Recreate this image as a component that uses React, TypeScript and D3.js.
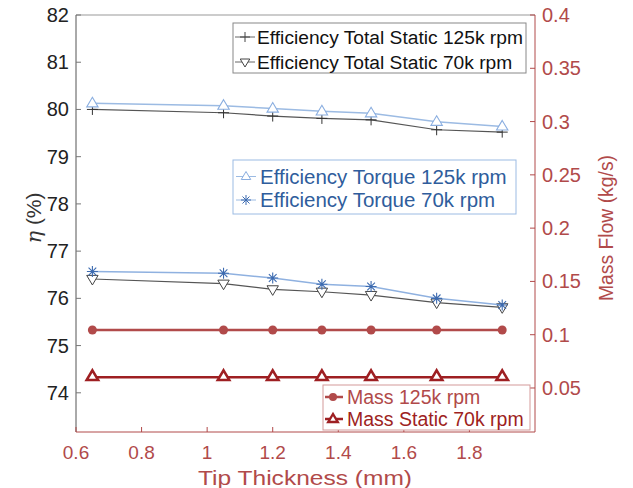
import { useEffect, useRef } from 'react';
import * as d3 from 'd3';

// tip thickness (mm)
const tipThickness = [0.65, 1.05, 1.2, 1.35, 1.5, 1.7, 1.9];

// efficiency (%) - left axis
const effTotalStatic125 = [80.0, 79.93, 79.86, 79.81, 79.78, 79.57, 79.52];
const effTotalStatic70 = [76.41, 76.31, 76.19, 76.14, 76.07, 75.91, 75.81];
const effTorque125 = [80.13, 80.08, 80.02, 79.96, 79.92, 79.74, 79.64];
const effTorque70 = [76.57, 76.53, 76.43, 76.3, 76.25, 76.0, 75.86];

// mass flow (kg/s) - right axis
const mass125 = [0.1044, 0.1044, 0.1044, 0.1044, 0.1044, 0.1044, 0.1044];
const massStatic70 = [0.06, 0.06, 0.06, 0.06, 0.06, 0.06, 0.06];

const xTicks = [0.6, 0.8, 1, 1.2, 1.4, 1.6, 1.8];
const leftTicks = [74, 75, 76, 77, 78, 79, 80, 81, 82];
const rightTicks = [0.05, 0.1, 0.15, 0.2, 0.25, 0.3, 0.35, 0.4];

const RED = '#b14a4a';
const DARK_RED = '#9e1f22';
const BLUE_TXT = '#2f5d9c';
const FONT = '"Liberation Sans", Arial, sans-serif';

const App = () => {
  const svgRef = useRef<SVGSVGElement>(null);

  useEffect(() => {
    const svg = d3.select(svgRef.current);
    svg.selectAll('*').remove();

    const left = 76, right = 535, top = 15, bottom = 432;
    const x = d3.scaleLinear().domain([0.6, 2.0]).range([left, right]);
    const yL = d3.scaleLinear().domain([73.17, 82]).range([bottom, top]);
    const yR = d3.scaleLinear().domain([0.0087, 0.4]).range([bottom, top]);

    // frame
    svg.append('line').attr('x1', left).attr('x2', right).attr('y1', top).attr('y2', top)
      .attr('stroke', '#999').attr('stroke-width', 1);
    svg.append('line').attr('x1', left).attr('x2', left).attr('y1', top).attr('y2', bottom)
      .attr('stroke', '#555').attr('stroke-width', 1);
    svg.append('line').attr('x1', right).attr('x2', right).attr('y1', top).attr('y2', bottom)
      .attr('stroke', RED).attr('stroke-width', 1);
    svg.append('line').attr('x1', left).attr('x2', right).attr('y1', bottom).attr('y2', bottom)
      .attr('stroke', RED).attr('stroke-width', 1);

    // left ticks
    leftTicks.forEach(t => {
      svg.append('line').attr('x1', left).attr('x2', left + 5).attr('y1', yL(t)).attr('y2', yL(t))
        .attr('stroke', '#777');
      svg.append('text').attr('x', left - 7).attr('y', yL(t)).attr('dy', '0.35em')
        .attr('text-anchor', 'end').style('font-family', FONT).style('font-size', '20px')
        .style('fill', '#222').text(t);
    });

    // right ticks
    rightTicks.forEach(t => {
      svg.append('line').attr('x1', right - 5).attr('x2', right).attr('y1', yR(t)).attr('y2', yR(t))
        .attr('stroke', RED);
      svg.append('text').attr('x', right + 7).attr('y', yR(t)).attr('dy', '0.35em')
        .attr('text-anchor', 'start').style('font-family', FONT).style('font-size', '20px')
        .style('fill', RED).text(t);
    });

    // x ticks
    xTicks.forEach(t => {
      svg.append('line').attr('x1', x(t)).attr('x2', x(t)).attr('y1', bottom).attr('y2', bottom - 5)
        .attr('stroke', RED);
      svg.append('text').attr('x', x(t)).attr('y', bottom + 27)
        .attr('text-anchor', 'middle').style('font-family', FONT).style('font-size', '19px')
        .style('fill', RED).text(t);
    });

    // axis titles
    svg.append('text').attr('x', 305).attr('y', 485).attr('text-anchor', 'middle')
      .style('font-family', FONT).style('font-size', '21px').style('fill', RED)
      .attr('textLength', 214).attr('lengthAdjust', 'spacingAndGlyphs')
      .text('Tip Thickness (mm)');

    const yLab = svg.append('text').attr('transform', 'translate(41,218) rotate(-90)')
      .attr('text-anchor', 'middle').style('font-size', '21px').style('fill', '#333');
    yLab.append('tspan').style('font-family', '"DejaVu Serif", serif').style('font-style', 'italic').text('η');
    yLab.append('tspan').style('font-family', FONT).text(' (%)');

    svg.append('text').attr('transform', 'translate(613,228) rotate(-90)')
      .attr('text-anchor', 'middle').style('font-family', FONT).style('font-size', '21px')
      .attr('textLength', 146).attr('lengthAdjust', 'spacingAndGlyphs')
      .style('fill', RED).text('Mass Flow (kg/s)');

    const pts = (vals: number[]) => tipThickness.map((t, i) => [t, vals[i]] as [number, number]);
    const lineL = d3.line<[number, number]>().x(d => x(d[0])).y(d => yL(d[1]));
    const lineR = d3.line<[number, number]>().x(d => x(d[0])).y(d => yR(d[1]));

    const triUp = (s: number) => `M0,${-s}L${s * 0.95},${s * 0.6}L${-s * 0.95},${s * 0.6}Z`;
    const triDown = (s: number) => `M0,${s}L${s * 0.95},${-s * 0.6}L${-s * 0.95},${-s * 0.6}Z`;
    const plus = (s: number) => `M${-s},0L${s},0M0,${-s}L0,${s}`;
    const star = (s: number) => {
      const d = s * 0.7;
      return `M${-s},0L${s},0M0,${-s}L0,${s}M${-d},${-d}L${d},${d}M${-d},${d}L${d},${-d}`;
    };

    const g = svg.append('g');

    // efficiency total static 125k (plus)
    g.append('path').attr('d', lineL(pts(effTotalStatic125))).attr('fill', 'none')
      .attr('stroke', '#555').attr('stroke-width', 1.2);
    pts(effTotalStatic125).forEach(d => g.append('path').attr('d', plus(5.5))
      .attr('transform', `translate(${x(d[0])},${yL(d[1])})`).attr('stroke', '#333').attr('stroke-width', 1));

    // efficiency torque 125k (triangle up)
    g.append('path').attr('d', lineL(pts(effTorque125))).attr('fill', 'none')
      .attr('stroke', '#9cbbe3').attr('stroke-width', 1.5);
    pts(effTorque125).forEach(d => g.append('path').attr('d', triUp(6))
      .attr('transform', `translate(${x(d[0])},${yL(d[1])})`)
      .attr('fill', 'white').attr('stroke', '#8aaee0').attr('stroke-width', 1.1));

    // efficiency total static 70k (triangle down)
    g.append('path').attr('d', lineL(pts(effTotalStatic70))).attr('fill', 'none')
      .attr('stroke', '#555').attr('stroke-width', 1.2);
    pts(effTotalStatic70).forEach(d => g.append('path').attr('d', triDown(6))
      .attr('transform', `translate(${x(d[0])},${yL(d[1])})`)
      .attr('fill', 'white').attr('stroke', '#444').attr('stroke-width', 1));

    // efficiency torque 70k (star)
    g.append('path').attr('d', lineL(pts(effTorque70))).attr('fill', 'none')
      .attr('stroke', '#8fb1e0').attr('stroke-width', 1.5);
    pts(effTorque70).forEach(d => g.append('path').attr('d', star(5.5))
      .attr('transform', `translate(${x(d[0])},${yL(d[1])})`)
      .attr('stroke', '#3d6bb0').attr('stroke-width', 1.1));

    // mass 125k (dots)
    g.append('path').attr('d', lineR(pts(mass125))).attr('fill', 'none')
      .attr('stroke', RED).attr('stroke-width', 2.5);
    pts(mass125).forEach(d => g.append('circle').attr('cx', x(d[0])).attr('cy', yR(d[1]))
      .attr('r', 4.5).attr('fill', RED));

    // mass static 70k (triangles)
    g.append('path').attr('d', lineR(pts(massStatic70))).attr('fill', 'none')
      .attr('stroke', DARK_RED).attr('stroke-width', 2.5);
    pts(massStatic70).forEach(d => g.append('path').attr('d', triUp(6))
      .attr('transform', `translate(${x(d[0])},${yR(d[1]) - 1})`)
      .attr('fill', 'white').attr('stroke', DARK_RED).attr('stroke-width', 2.6));

    // legends
    const legend = (bx: number, by: number, bw: number, bh: number, border: string,
      items: { label: string; color: string; draw: (gg: any) => void }[],
      fs: number, rowH: number, first: number, mx: number, tx: number) => {
      const lg = svg.append('g');
      lg.append('rect').attr('x', bx).attr('y', by).attr('width', bw).attr('height', bh)
        .attr('fill', 'white').attr('stroke', border).attr('stroke-width', 1);
      items.forEach((it, i) => {
        const cy = by + first + i * rowH;
        const sg = lg.append('g').attr('transform', `translate(${bx + mx},${cy})`);
        it.draw(sg);
        lg.append('text').attr('x', bx + tx).attr('y', cy).attr('dy', '0.36em')
          .style('font-family', FONT).style('font-size', `${fs}px`).style('fill', it.color).text(it.label);
      });
    };

    legend(233, 23, 293, 50, '#888', [
      {
        label: 'Efficiency Total Static 125k rpm', color: '#111', draw: gg => {
          gg.append('line').attr('x1', -10).attr('x2', 10).attr('stroke', '#666');
          gg.append('path').attr('d', plus(5)).attr('stroke', '#444');
        }
      },
      {
        label: 'Efficiency Total Static 70k rpm', color: '#111', draw: gg => {
          gg.append('line').attr('x1', -10).attr('x2', 10).attr('stroke', '#666');
          gg.append('path').attr('d', triDown(5)).attr('fill', 'white').attr('stroke', '#444');
        }
      },
    ], 19.2, 25, 14, 12, 24);

    legend(233, 160, 283, 54, '#9cbbe3', [
      {
        label: 'Efficiency Torque 125k rpm', color: BLUE_TXT, draw: gg => {
          gg.append('line').attr('x1', -10).attr('x2', 10).attr('stroke', '#9cbbe3');
          gg.append('path').attr('d', triUp(5)).attr('fill', 'white').attr('stroke', '#8aaee0');
        }
      },
      {
        label: 'Efficiency Torque 70k rpm', color: BLUE_TXT, draw: gg => {
          gg.append('line').attr('x1', -10).attr('x2', 10).attr('stroke', '#9cbbe3');
          gg.append('path').attr('d', star(5)).attr('stroke', '#3d6bb0');
        }
      },
    ], 20.5, 23.5, 16.5, 13, 27);

    legend(323, 385, 207, 45, '#d49a9a', [
      {
        label: 'Mass 125k rpm', color: RED, draw: gg => {
          gg.append('line').attr('x1', -8).attr('x2', 10).attr('stroke', RED).attr('stroke-width', 2.5);
          gg.append('circle').attr('r', 4).attr('fill', RED);
        }
      },
      {
        label: 'Mass Static 70k rpm', color: DARK_RED, draw: gg => {
          gg.append('line').attr('x1', -8).attr('x2', 10).attr('stroke', DARK_RED).attr('stroke-width', 2.5);
          gg.append('path').attr('d', triUp(5)).attr('fill', 'white').attr('stroke', DARK_RED).attr('stroke-width', 2.4);
        }
      },
    ], 19.5, 22, 12, 10, 24);
  }, []);

  return (
    <svg ref={svgRef} width={633} height={488}
      style={{ position: 'absolute', left: 0, top: 0, background: 'white' }} />
  );
};

export default App;
